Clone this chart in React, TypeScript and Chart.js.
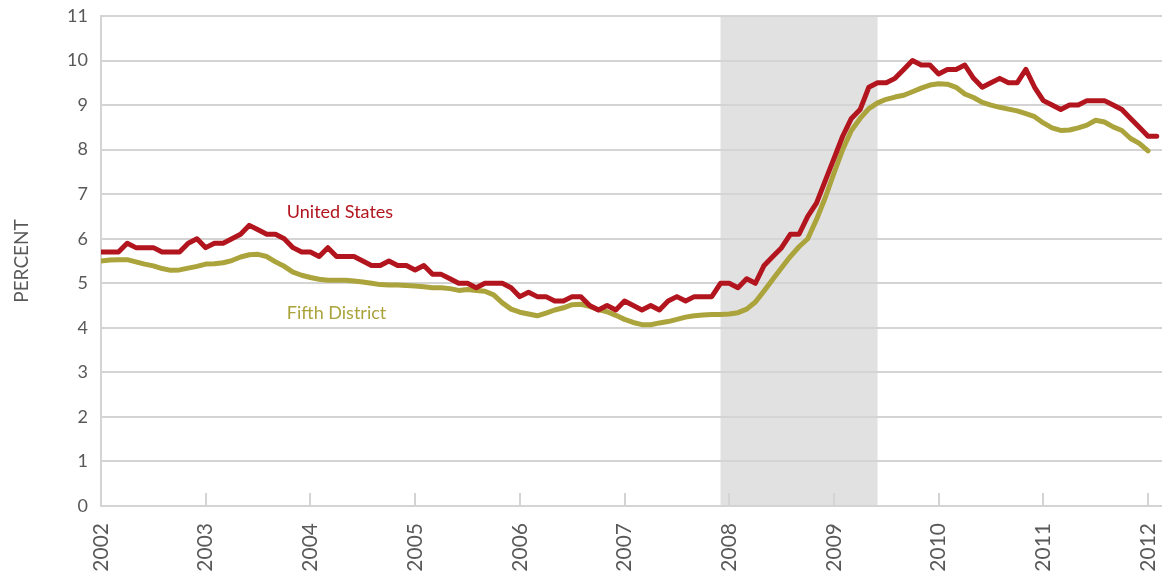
import React, { useEffect, useRef } from 'react';
import { Chart, registerables } from 'chart.js';

Chart.register(...registerables);

// Month index 0 = Jan 2002
const YEAR_LABELS = ['2002', '2003', '2004', '2005', '2006', '2007', '2008', '2009', '2010', '2011', '2012'];
const Y_TICKS = [0, 1, 2, 3, 4, 5, 6, 7, 8, 9, 10, 11];

const US_RATE = [
  5.7, 5.7, 5.7, 5.9, 5.8, 5.8, 5.8, 5.7, 5.7, 5.7, 5.9, 6.0,
  5.8, 5.9, 5.9, 6.0, 6.1, 6.3, 6.2, 6.1, 6.1, 6.0, 5.8, 5.7,
  5.7, 5.6, 5.8, 5.6, 5.6, 5.6, 5.5, 5.4, 5.4, 5.5, 5.4, 5.4,
  5.3, 5.4, 5.2, 5.2, 5.1, 5.0, 5.0, 4.9, 5.0, 5.0, 5.0, 4.9,
  4.7, 4.8, 4.7, 4.7, 4.6, 4.6, 4.7, 4.7, 4.5, 4.4, 4.5, 4.4,
  4.6, 4.5, 4.4, 4.5, 4.4, 4.6, 4.7, 4.6, 4.7, 4.7, 4.7, 5.0,
  5.0, 4.9, 5.1, 5.0, 5.4, 5.6, 5.8, 6.1, 6.1, 6.5, 6.8, 7.3,
  7.8, 8.3, 8.7, 8.9, 9.4, 9.5, 9.5, 9.6, 9.8, 10.0, 9.9, 9.9,
  9.7, 9.8, 9.8, 9.9, 9.6, 9.4, 9.5, 9.6, 9.5, 9.5, 9.8, 9.4,
  9.1, 9.0, 8.9, 9.0, 9.0, 9.1, 9.1, 9.1, 9.0, 8.9, 8.7, 8.5,
  8.3, 8.3,
];

const FIFTH_DISTRICT_RATE = [
  5.50, 5.52, 5.53, 5.53, 5.48, 5.43, 5.39, 5.33, 5.29, 5.30, 5.34, 5.38,
  5.43, 5.44, 5.46, 5.51, 5.59, 5.64, 5.65, 5.60, 5.48, 5.38, 5.25, 5.18,
  5.13, 5.09, 5.07, 5.07, 5.07, 5.05, 5.03, 5.00, 4.97, 4.96, 4.96, 4.95,
  4.94, 4.92, 4.90, 4.90, 4.88, 4.84, 4.86, 4.84, 4.82, 4.74, 4.56, 4.42,
  4.35, 4.31, 4.27, 4.33, 4.40, 4.45, 4.52, 4.53, 4.48, 4.41, 4.36, 4.28,
  4.19, 4.12, 4.07, 4.07, 4.11, 4.14, 4.19, 4.24, 4.27, 4.29, 4.30, 4.30,
  4.31, 4.34, 4.42, 4.58, 4.83, 5.09, 5.35, 5.60, 5.82, 6.00, 6.43, 6.92,
  7.47, 8.00, 8.43, 8.70, 8.92, 9.05, 9.13, 9.18, 9.22, 9.30, 9.38, 9.45,
  9.48, 9.47, 9.40, 9.25, 9.17, 9.06, 9.00, 8.95, 8.91, 8.87, 8.81, 8.74,
  8.60, 8.49, 8.43, 8.44, 8.49, 8.55, 8.66, 8.62, 8.51, 8.43, 8.25, 8.14,
  7.97,
];

// Recession: Dec 2007 to Jun 2009 (month indices)
const RECESSION_START = 71;
const RECESSION_END = 89;

const X_MAX = 121.6;
const MONTHS_PER_YEAR = 12;

const US_COLOR = '#b2151d';
const FD_COLOR = '#aba33b';
const GRID_COLOR = '#d4d4d4';
const TEXT_COLOR = '#595959';
const SHADE_COLOR = '#e1e1e1';
const FONT = 'Lato, "Open Sans", sans-serif';

const SERIES_LABELS = [
  { text: 'United States', x: 21.3, y: 6.6, color: US_COLOR },
  { text: 'Fifth District', x: 21.3, y: 4.33, color: FD_COLOR },
];

const backgroundPlugin = {
  id: 'recessionShade',
  beforeDraw(chart: any) {
    const { ctx, chartArea, scales } = chart;
    const x0 = scales.x.getPixelForValue(RECESSION_START);
    const x1 = scales.x.getPixelForValue(RECESSION_END);
    ctx.save();
    ctx.fillStyle = SHADE_COLOR;
    ctx.fillRect(x0, chartArea.top, x1 - x0, chartArea.bottom - chartArea.top);
    ctx.restore();
  },
};

const yearTickPlugin = {
  id: 'yearTicks',
  beforeDatasetsDraw(chart: any) {
    const { ctx, chartArea, scales } = chart;
    ctx.save();
    ctx.strokeStyle = GRID_COLOR;
    ctx.lineWidth = 2;
    YEAR_LABELS.forEach((_, k) => {
      const px = Math.round(scales.x.getPixelForValue(k * MONTHS_PER_YEAR));
      ctx.beginPath();
      ctx.moveTo(px, chartArea.bottom);
      ctx.lineTo(px, chartArea.bottom - 13);
      ctx.stroke();
    });
    ctx.restore();
  },
};

const labelPlugin = {
  id: 'seriesLabels',
  afterDatasetsDraw(chart: any) {
    const { ctx, scales } = chart;
    ctx.save();
    ctx.font = `18px ${FONT}`;
    ctx.textAlign = 'left';
    ctx.textBaseline = 'middle';
    SERIES_LABELS.forEach((l) => {
      ctx.fillStyle = l.color;
      ctx.fillText(l.text, scales.x.getPixelForValue(l.x), scales.y.getPixelForValue(l.y));
    });
    ctx.restore();
  },
};

export default function App() {
  const ref = useRef<HTMLCanvasElement>(null);

  useEffect(() => {
    if (!ref.current) return;
    const chart = new Chart(ref.current, {
      type: 'line',
      data: {
        datasets: [
          {
            label: 'United States',
            data: US_RATE.map((v, i) => ({ x: i, y: v })),
            borderColor: US_COLOR,
            borderWidth: 5,
            borderCapStyle: 'round',
            borderJoinStyle: 'round',
            pointRadius: 0,
            fill: false,
            tension: 0,
          },
          {
            label: 'Fifth District',
            data: FIFTH_DISTRICT_RATE.map((v, i) => ({ x: i, y: v })),
            borderColor: FD_COLOR,
            borderWidth: 5,
            borderCapStyle: 'round',
            borderJoinStyle: 'round',
            pointRadius: 0,
            fill: false,
            tension: 0,
          },
        ],
      },
      options: {
        responsive: false,
        animation: false,
        layout: { padding: { top: 16, right: 8, left: 0, bottom: 0 } },
        plugins: {
          legend: { display: false },
          tooltip: { enabled: false },
        },
        scales: {
          x: {
            type: 'linear',
            min: 0,
            max: X_MAX,
            afterBuildTicks: (s: any) => {
              s.ticks = YEAR_LABELS.map((_, k) => ({ value: k * MONTHS_PER_YEAR }));
            },
            afterFit: (s: any) => {
              s.height = 67;
              s.paddingLeft = 0;
              s.paddingRight = 0;
            },
            grid: { display: false, drawTicks: false },
            border: { display: false },
            ticks: {
              autoSkip: false,
              minRotation: 90,
              maxRotation: 90,
              padding: 17,
              color: TEXT_COLOR,
              font: { family: FONT, size: 21 },
              callback: (v: any) => YEAR_LABELS[Math.round(Number(v) / MONTHS_PER_YEAR)],
            },
          },
          y: {
            min: 0,
            max: 11,
            afterBuildTicks: (s: any) => {
              s.ticks = Y_TICKS.map((v) => ({ value: v }));
            },
            afterFit: (s: any) => {
              s.width = 101;
              s.paddingTop = 0;
              s.paddingBottom = 0;
            },
            grid: { color: GRID_COLOR, lineWidth: 2, drawTicks: false },
            border: { display: true, color: GRID_COLOR, width: 2 },
            ticks: {
              padding: 13,
              color: TEXT_COLOR,
              font: { family: FONT, size: 18 },
            },
            title: {
              display: true,
              text: 'PERCENT',
              color: TEXT_COLOR,
              font: { family: FONT, size: 19 },
              padding: { top: 10, bottom: 0 },
            },
          },
        },
      },
      plugins: [backgroundPlugin, yearTickPlugin, labelPlugin],
    } as any);
    return () => chart.destroy();
  }, []);

  return (
    <div style={{ position: 'fixed', left: 0, top: 0, width: 1170, height: 573, background: '#fff' }}>
      <canvas ref={ref} width={1170} height={573} style={{ display: 'block', width: 1170, height: 573 }} />
    </div>
  );
}
